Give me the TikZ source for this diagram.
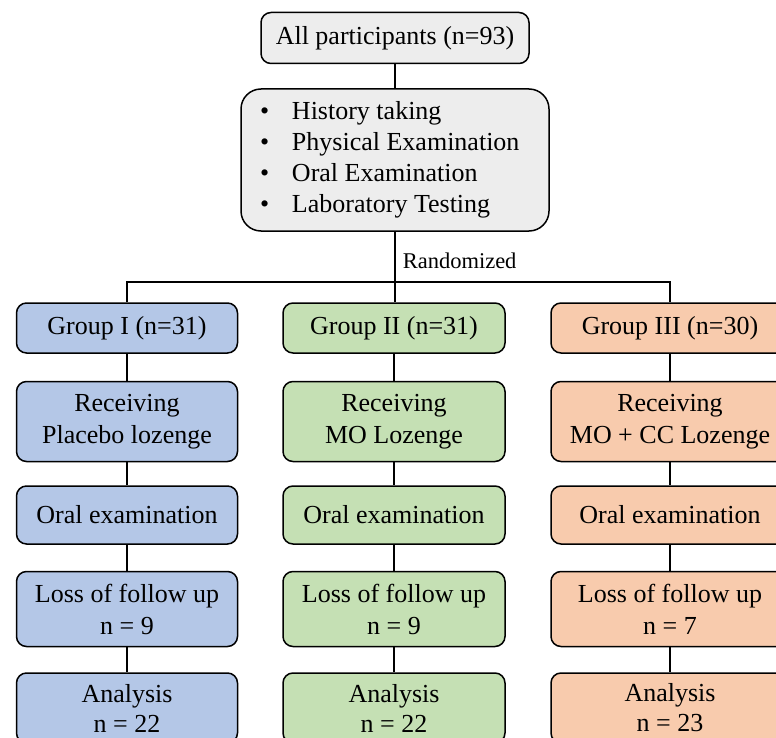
\documentclass[tikz,border=0pt]{standalone}
\usepackage{fontspec}
\setmainfont{Liberation Serif}
\usepackage{xcolor}
\usetikzlibrary{positioning}
\definecolor{boxgray}{HTML}{EDEDED}
\definecolor{boxblue}{HTML}{B4C7E7}
\definecolor{boxgreen}{HTML}{C5E0B4}
\definecolor{boxorange}{HTML}{F8CBAD}
\newcommand{\bul}{\makebox[32pt][l]{\textbullet}}

\begin{document}
\begin{tikzpicture}[x=1pt, y=-1pt, line width=1.5pt, font=\fontsize{26}{32}\selectfont]
			\tikzstyle{box}=[draw, rounded corners=10pt, align=center, inner sep=2pt, minimum height=50pt]
			\clip (0,0) rectangle (776,738);
			
			\node[box, fill=boxgray, minimum width=268pt, minimum height=51pt](all) at (395,38) {All participants (n=93)};
			\node[box, fill=boxgray, rounded corners=20pt, align=flush left, text width=270pt, inner xsep=19pt, minimum height=142pt, font=\fontsize{26}{31}\selectfont, below=24pt of all](lst) {\bul History taking\\ \bul Physical Examination\\ \bul Oral Examination\\ \bul Laboratory Testing};
			
			%% one column per group
			\foreach \c/\x/\col/\w/\grp/\drug/\lost/\n in {1/127/boxblue/221/Group I (n=31)/Placebo lozenge/9/22, 2/394/boxgreen/222/Group II (n=31)/MO Lozenge/9/22, 3/670/boxorange/238/Group III (n=30)/MO + CC Lozenge/7/23}{
				\node[box, fill=\col, minimum width=\w pt](g\c) at (\x,328) {\grp};
				\node[box, fill=\col, minimum width=\w pt, minimum height=80pt, below=27pt of g\c](rc\c) {Receiving\\\drug};
				\node[box, fill=\col, minimum width=\w pt, minimum height=58pt, below=23pt of rc\c](oe\c) {Oral examination};
				\node[box, fill=\col, minimum width=\w pt, minimum height=75pt, below=26pt of oe\c](lf\c) {Loss of follow up\\n = \lost};
				\node[box, fill=\col, minimum width=\w pt, minimum height=70pt, font=\fontsize{26}{30}\selectfont, below=25pt of lf\c](an\c) {Analysis\\n = \n};
				\draw (g\c) -- (rc\c) (rc\c) -- (oe\c) (oe\c) -- (lf\c) (lf\c) -- (an\c);
			}
			
			\coordinate[below=50pt of lst.south](split);
			\draw (all) -- (lst);
			\draw (lst.south) -- (lst.south |- g2.north);
			\draw (g1.north) |- (split) -| (g3.north);
			\node[anchor=base west, inner sep=1pt, font=\fontsize{22.5}{26}\selectfont](rnd) at ([xshift=6pt, yshift=13pt]split) {Randomized};
			
\end{tikzpicture}
\end{document}
